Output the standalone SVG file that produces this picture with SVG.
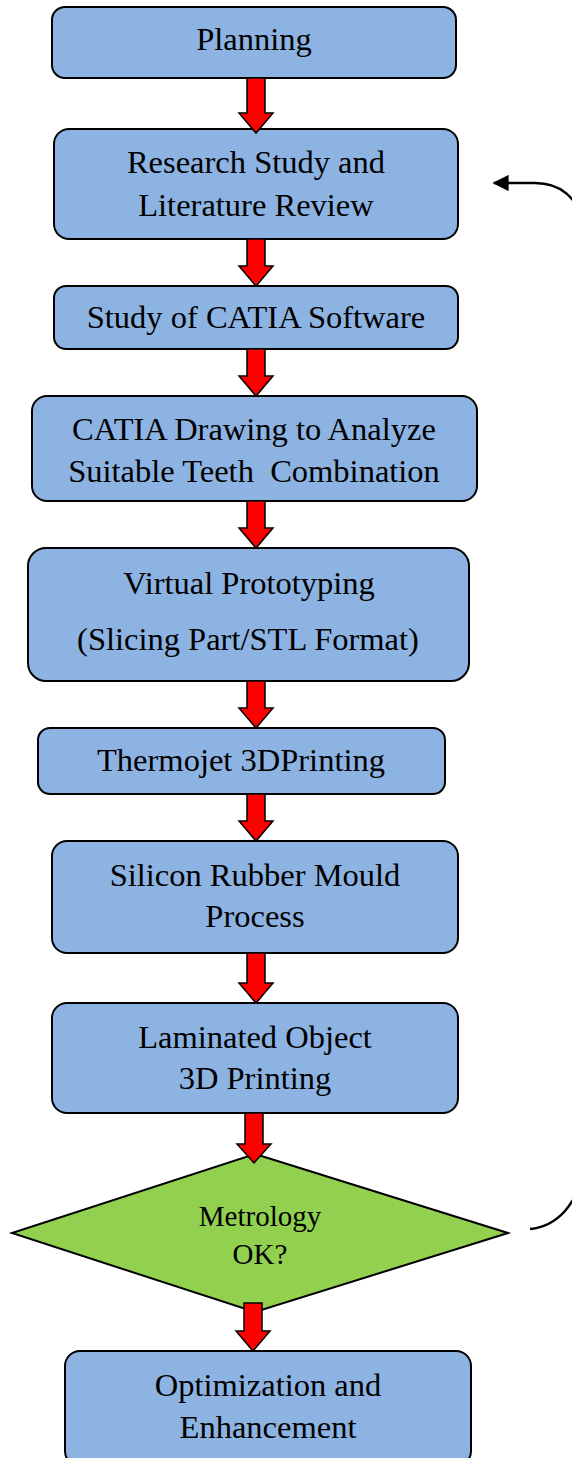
<svg xmlns="http://www.w3.org/2000/svg" width="572" height="1458" viewBox="0 0 572 1458">
<defs>
<style>
.box{fill:#8DB3E2;stroke:#000;stroke-width:2}
.dia{fill:#92D050;stroke:#000;stroke-width:2}
.t{font-family:"Liberation Serif","Times New Roman",serif;font-size:32.5px;fill:#000;text-anchor:middle}
.ts{font-family:"Liberation Serif","Times New Roman",serif;font-size:29px;fill:#000;text-anchor:middle}
.ra{fill:#FF0000;stroke:#000;stroke-width:1.5;stroke-linejoin:miter}
.cv{fill:none;stroke:#000;stroke-width:2.5}
</style>
<marker id="ah" viewBox="0 0 10 10" refX="9" refY="5" markerWidth="6.5" markerHeight="6.5" orient="auto" markerUnits="strokeWidth">
<path d="M0,0 L10,5 L0,10 z" fill="#000"/>
</marker>
</defs>
<g id="n1"><rect class="box" x="52" y="7" width="404" height="71" rx="13"/><text class="t" x="254" y="50">Planning</text></g>
<g id="n2"><rect class="box" x="54" y="129" width="404" height="110" rx="15"/><text class="t" x="256" y="173">Research Study and</text><text class="t" x="256" y="216">Literature Review</text></g>
<g id="n3"><rect class="box" x="54" y="286" width="404" height="63" rx="12"/><text class="t" x="256" y="328">Study of CATIA Software</text></g>
<g id="n4"><rect class="box" x="32" y="396" width="445" height="105" rx="15"/><text class="t" x="254" y="440">CATIA Drawing to Analyze</text><text class="t" x="254" y="482" xml:space="preserve">Suitable Teeth  Combination</text></g>
<g id="n5"><rect class="box" x="28" y="548" width="441" height="133" rx="18"/><text class="t" x="249" y="594">Virtual Prototyping</text><text class="t" x="248" y="650">(Slicing Part/STL Format)</text></g>
<g id="n6"><rect class="box" x="38" y="728" width="407" height="66" rx="12"/><text class="t" x="241" y="771">Thermojet 3DPrinting</text></g>
<g id="n7"><rect class="box" x="52" y="841" width="406" height="112" rx="15"/><text class="t" x="255" y="886">Silicon Rubber Mould</text><text class="t" x="255" y="927">Process</text></g>
<g id="n8"><rect class="box" x="52" y="1003" width="406" height="110" rx="15"/><text class="t" x="255" y="1048">Laminated Object</text><text class="t" x="255" y="1089">3D Printing</text></g>
<g id="n9"><path class="dia" d="M255,1154 L508,1233 L255,1312 L12,1233 Z"/><text class="ts" x="260" y="1226">Metrology</text><text class="ts" x="260" y="1264">OK?</text></g>
<g id="n10"><rect class="box" x="65" y="1351" width="406" height="115" rx="15"/><text class="t" x="268" y="1396">Optimization and</text><text class="t" x="268" y="1438">Enhancement</text></g>
<g id="connectors">
<path class="ra" d="M247,78 L265,78 L265,113 L273,113 L256,133 L239,113 L247,113 Z"/>
<path class="ra" d="M247,239 L265,239 L265,266 L273,266 L256,286 L239,266 L247,266 Z"/>
<path class="ra" d="M247,349 L265,349 L265,376 L273,376 L256,396 L239,376 L247,376 Z"/>
<path class="ra" d="M247,501 L265,501 L265,528 L273,528 L256,548 L239,528 L247,528 Z"/>
<path class="ra" d="M247,681 L265,681 L265,708 L273,708 L256,728 L239,708 L247,708 Z"/>
<path class="ra" d="M247,794 L265,794 L265,821 L273,821 L256,841 L239,821 L247,821 Z"/>
<path class="ra" d="M247,953 L265,953 L265,983 L273,983 L256,1003 L239,983 L247,983 Z"/>
<path class="ra" d="M245,1113 L263,1113 L263,1144 L271,1144 L254,1163 L237,1144 L245,1144 Z"/>
<path class="ra" d="M244,1303 L262,1303 L262,1331 L270,1331 L253,1351 L236,1331 L244,1331 Z"/>
<path class="cv" d="M530,1229 C 560,1226 572,1205 590,1170 L 600,700 L 590,230 C 575,195 560,183 535,183 L 494,183" marker-end="url(#ah)"/>
</g>
</svg>
